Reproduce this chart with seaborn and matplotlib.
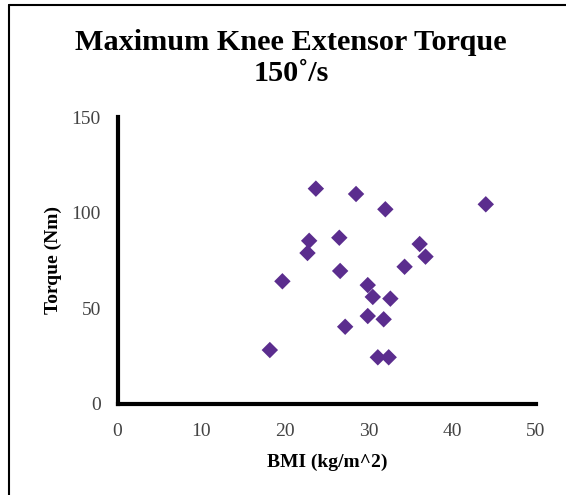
import matplotlib
matplotlib.use("Agg")
import matplotlib.pyplot as plt
import seaborn as sns
import pandas as pd
from matplotlib.lines import Line2D

bmi = [23.7, 28.5, 32.0, 44.0, 22.9, 26.5, 22.7, 36.1, 36.8, 34.3, 26.6,
       19.7, 29.9, 30.5, 32.6, 29.9, 31.8, 27.2, 18.2, 31.1, 32.4]
torque = [112.5, 109.7, 101.7, 104.3, 85.2, 86.8, 78.8, 83.5, 76.9, 71.6, 69.4,
          64.0, 62.0, 55.8, 54.9, 45.8, 44.1, 40.2, 28.0, 24.2, 24.2]
x_ticks = [0, 10, 20, 30, 40, 50]
y_ticks = [0, 50, 100, 150]

df = pd.DataFrame({"BMI": bmi, "Torque": torque})

sns.set_style("white")
plt.rcParams["font.family"] = ["Liberation Serif", "DejaVu Serif"]

fig = plt.figure(figsize=(5.66, 4.95), dpi=100)
ax = fig.add_axes([0.2076, 0.1848, 0.7394, 0.5788])

sns.scatterplot(data=df, x="BMI", y="Torque", ax=ax, marker="D", s=70,
                color="#5b2d8e", edgecolor="none", legend=False)

ax.set_xlim(0, 50)
ax.set_ylim(0, 150)
ax.set_xticks(x_ticks)
ax.set_yticks(y_ticks)
ax.tick_params(axis="x", length=0, labelsize=14, colors="#444444", pad=14)
ax.tick_params(axis="y", length=0, labelsize=14, colors="#444444", pad=12)

for side in ["top", "right"]:
    ax.spines[side].set_visible(False)
for side in ["left", "bottom"]:
    ax.spines[side].set_visible(True)
    ax.spines[side].set_linewidth(3)
    ax.spines[side].set_color("black")
    ax.spines[side].set_capstyle("projecting")

ax.set_xlabel("BMI (kg/m^2)", fontsize=14, fontweight="bold", labelpad=10,
              color="black")
ax.set_ylabel("Torque (Nm)", fontsize=14, fontweight="bold", labelpad=7,
              color="black")

fig.text(0.514, 0.915, "Maximum Knee Extensor Torque", ha="center", va="center",
         fontsize=21.8, fontweight="bold", color="black")
fig.text(0.514, 0.851, "150\u02da/s", ha="center", va="center",
         fontsize=21.8, fontweight="bold", color="black")

# outer frame (left and top edges)
fig.add_artist(Line2D([9/566, 9/566], [0, 1 - 5/495], transform=fig.transFigure,
                      color="black", linewidth=1.5))
fig.add_artist(Line2D([9/566, 1], [1 - 5/495, 1 - 5/495], transform=fig.transFigure,
                      color="black", linewidth=1.5))

fig.savefig("out.png", dpi=100)
